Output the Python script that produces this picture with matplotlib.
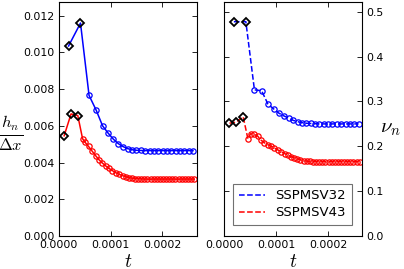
import matplotlib
matplotlib.use("Agg")
import matplotlib.pyplot as plt
import numpy as np

plt.rcParams['mathtext.fontset'] = 'cm'
plt.rcParams['font.family'] = 'DejaVu Sans'

# SSPMSV32 (blue): time, h_n/dx, nu_n ; first 2 points are start-up steps
t_b = [1.9, 4.2, 5.85, 7.23, 8.46, 9.54, 10.55, 11.50, 12.41, 13.29, 14.15,
       14.99, 15.83, 16.67, 17.51, 18.35, 19.18, 20.02, 20.86, 21.69, 22.53,
       23.37, 24.20, 25.04, 25.88]
h_b = [0.01035, 0.0116, 0.00766, 0.00685, 0.0060, 0.0056, 0.00527, 0.00503,
       0.00487, 0.00476, 0.0047, 0.00467, 0.00466, 0.00465, 0.00465, 0.00465,
       0.00465, 0.00465, 0.00465, 0.00465, 0.00465, 0.00465, 0.00465, 0.00465,
       0.00465]
nu_b = [0.478, 0.478, 0.326, 0.324, 0.294, 0.2835, 0.274, 0.268, 0.263, 0.258,
        0.255, 0.253, 0.2515, 0.251, 0.2505, 0.25, 0.25, 0.25, 0.25, 0.25,
        0.25, 0.25, 0.25, 0.25, 0.25]
n_start_b = 2

# SSPMSV43 (red); first 3 points are start-up steps
t_r = [1.05, 2.38, 3.68, 4.6, 5.1, 5.75, 6.45, 7.1, 7.75, 8.4, 9.05, 9.7,
       10.35, 11.0, 11.65, 12.3, 12.9, 13.5, 14.1, 14.7, 15.3, 15.9, 16.5,
       17.1, 17.7, 18.3, 18.9, 19.5, 20.1, 20.7, 21.3, 21.9, 22.5, 23.1, 23.7,
       24.3, 24.9, 25.5, 26.1]
h_r = [0.00546, 0.00665, 0.00656, 0.0053, 0.0051, 0.00488, 0.00462, 0.00438,
       0.00416, 0.00398, 0.00382, 0.00368, 0.00356, 0.00345, 0.00336, 0.00329,
       0.00323, 0.00318, 0.00315, 0.00313, 0.00312, 0.00311, 0.0031, 0.0031,
       0.0031, 0.0031, 0.0031, 0.0031, 0.0031, 0.0031, 0.0031, 0.0031, 0.0031,
       0.0031, 0.0031, 0.0031, 0.0031, 0.0031, 0.0031]
nu_r = [0.2516, 0.254, 0.266, 0.2165, 0.228, 0.227, 0.223, 0.214, 0.208,
        0.204, 0.200, 0.196, 0.192, 0.188, 0.184, 0.180, 0.177, 0.174, 0.172,
        0.170, 0.168, 0.167, 0.1662, 0.166, 0.166, 0.166, 0.166, 0.166, 0.166,
        0.166, 0.166, 0.166, 0.166, 0.166, 0.166, 0.166, 0.166, 0.166, 0.166]
n_start_r = 3

methods = ['SSPMSV32', 'SSPMSV43']
colors = ['b', 'r']

t_b = np.array(t_b) * 1e-5
t_r = np.array(t_r) * 1e-5

fig = plt.figure(figsize=(4.04, 2.69), dpi=100)
ax1 = fig.add_axes([0.1453, 0.1227, 0.3416, 0.870])
ax2 = fig.add_axes([0.5545, 0.1227, 0.3423, 0.870])

def plot_series(ax, t, y, n0, c, ls, label=None):
    ax.plot(t, y, color=c, ls=ls, lw=1.1, label=label)
    ax.plot(t[n0:], y[n0:], 'o', ms=3.8, mfc='none', mec=c, mew=0.9)
    ax.plot(t[:n0], y[:n0], 'D', ms=4.2, mfc='none', mec='k', mew=1.3)

plot_series(ax1, t_b, h_b, n_start_b, colors[0], '-')
plot_series(ax1, t_r, h_r, n_start_r, colors[1], '-')
plot_series(ax2, t_b, nu_b, n_start_b, colors[0], '--', methods[0])
plot_series(ax2, t_r, nu_r, n_start_r, colors[1], '--', methods[1])

tfs = 7.8
for ax in (ax1, ax2):
    ax.set_xlim(0, 2.66e-4)
    ax.set_xticks([0, 1e-4, 2e-4])
    ax.set_xticklabels(['0.0000', '0.0001', '0.0002'])
    ax.tick_params(direction='in', top=True, right=True, left=True,
                   labelsize=tfs, length=3.5, width=0.6, pad=3)
    ax.set_xlabel('$t$', fontsize=14, labelpad=1)
    for s in ax.spines.values():
        s.set_linewidth(0.8)

ax1.set_ylim(0, 0.01275)
ax1.set_yticks(np.arange(0, 0.0121, 0.002))
ax1.set_yticklabels(['%.3f' % v for v in np.arange(0, 0.0121, 0.002)])
ax1.set_ylabel(r'$\frac{h_n}{\Delta x}$', fontsize=17, rotation=0,
               va='center', ha='center')
ax1.yaxis.set_label_coords(-0.345, 0.44)

ax2.set_ylim(0, 0.522)
ax2.set_yticks(np.arange(0, 0.51, 0.1))
ax2.set_yticklabels(['%.1f' % v for v in np.arange(0, 0.51, 0.1)])
ax2.yaxis.tick_right()
ax2.tick_params(left=True, right=True, direction='in')
ax2.yaxis.set_label_position('right')
ax2.set_ylabel(r'$\nu_n$', fontsize=15, rotation=0, va='center', ha='center')
ax2.yaxis.set_label_coords(1.2, 0.46)

leg = ax2.legend(loc='lower left', bbox_to_anchor=(0.02, 0.02), fontsize=9.5,
                 fancybox=False, handlelength=2.0, borderpad=0.4,
                 labelspacing=0.3)
leg.get_frame().set_edgecolor('0.3')
leg.get_frame().set_linewidth(0.8)

fig.savefig('out.png', dpi=100)
